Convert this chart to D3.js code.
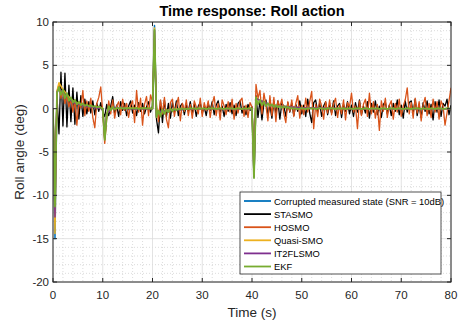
<!DOCTYPE html>
<html>
<head>
<meta charset="utf-8">
<script src="https://cdn.jsdelivr.net/npm/d3@7"></script>
<style>
  body { margin: 0; background: #fff; }
  text { font-family: 'Liberation Sans', Arial, sans-serif; fill: #262626; }
</style>
</head>
<body>
<svg id="chart" width="461" height="324"></svg>
<script>
// sample step of the dense series (s)
const DT = 0.4

// STASMO, one value every DT seconds from t = 0 to 80
const stasmo = [
  0, -9.0, 1.5, -2.9, 4.2, -2.0, 4.1, -2.1, 2.7, -1.5,
  2.4, -1.8, 1.9, -1.2, 1.5, -0.9, 1.1, -0.6, 0.8, -0.5,
  0.9, -0.7, 0.6, -0.3, 0.7, -0.4, -0.9, 0.5, -0.8, 0.3,
  1.4, -0.6, 0.4, -0.9, 0.8, -0.2, 0.6, -0.8, 0.3, 0.9,
  -0.5, 0.4, -0.8, 0.7, -0.3, 0.6, -0.6, 0.2, 0.8, -0.4,
  0.3, 7.5, -1.2, -2.8, 0.9, -1.6, 1.0, -0.9, 0.6, -1.1,
  0.7, -0.4, 0.9, -0.8, 0.3, 0.6, -0.7, 0.4, -0.3, 0.8,
  -0.6, 0.5, -0.9, 0.3, 0.7, -0.5, 0.2, -0.8, 0.6, -0.2,
  0.8, -0.7, 0.4, 0.9, -0.4, 0.3, -0.9, 0.5, -0.3, 0.7,
  -0.6, 0.4, -0.8, 0.6, 0.9, -0.5, 0.3, -0.7, 0.5, -0.2,
  0.2, -6.5, 1.5, -1.0, 0.9, -1.3, 0.6, 1.0, -0.8, 0.4,
  -1.1, 0.8, -0.5, 0.9, -1.2, 0.6, 0.3, -0.9, 0.7, -0.4,
  0.6, -0.8, 0.5, -0.3, 0.9, -0.6, 0.4, -0.9, 1.1, -0.5,
  -1.6, 0.7, 1.0, -0.4, 0.6, -0.9, 0.3, 0.8, -0.7, 0.4,
  -0.5, 0.9, -0.8, 0.3, 0.6, -1.0, 0.5, -0.3, 0.8, -0.6,
  0.4, -0.9, 0.7, -0.4, 1.0, -0.7, 0.3, -0.5, 0.8, -1.1,
  0.6, -0.4, 0.9, -0.7, 0.3, -1.0, 0.5, 0.8, -0.6, 0.4,
  -0.8, 0.6, -0.3, 1.0, -0.7, 0.4, -1.1, 0.9, -0.4, 0.7,
  0.9, -0.5, 1.1, -0.8, 0.4, -1.0, 0.7, -0.3, 0.9, -0.6,
  0.5, -1.3, 0.8, -0.4, 1.0, -0.9, 0.6, 0.3, 1.1, -0.7,
  0.4,
]

// HOSMO, same time grid
const hosmo = [
  0, -10.0, 2.0, 2.8, 1.2, 2.2, 0.6, 1.5, 0.2, 1.1,
  -0.4, 1.0, -1.9, 0.8, 0.1, 2.1, -0.8, 0.9, -0.3, 1.2,
  -1.0, -2.2, 0.6, 1.3, 2.5, -0.5, -4.0, -1.2, 0.9, -0.6,
  1.0, -1.1, 0.3, 0.8, -0.7, 1.1, -0.2, 0.6, -1.0, 0.4,
  0.9, -1.6, 2.1, -0.4, 1.2, -1.9, 0.5, 1.4, -0.8, 1.6,
  0.8, 7.5, 0.5, -1.5, 1.0, -0.6, 1.3, -1.2, -2.2, 0.7,
  1.1, -0.9, 0.4, 1.3, -1.4, 0.6, -0.3, 1.0, -0.8, 0.5,
  -1.1, 0.9, 0.2, -0.6, 1.2, -0.9, 0.7, -0.2, 0.9, -1.0,
  0.5, 1.4, -0.8, 0.6, -1.3, 1.0, 0.3, -0.7, 0.8, -0.4,
  1.1, -1.2, 0.6, -0.5, 0.9, 1.2, -0.9, 0.4, -1.0, 0.7,
  0.2, -6.5, 2.8, 1.2, 2.1, -0.6, 1.8, 0.4, -1.4, 1.5,
  -0.8, 1.3, -1.5, 0.9, 0.2, 1.1, -0.6, -1.6, 0.8, -0.3,
  1.0, -0.9, 0.6, 1.5, -1.1, 0.4, -0.7, 1.2, -0.4, 0.8,
  2.0, -2.3, 0.5, -0.9, 1.1, 0.3, -1.2, 0.8, -0.5, 1.0,
  -0.7, 0.6, 1.2, -1.0, 0.4, -0.6, 1.0, -1.3, 0.7, 0.2,
  1.8, -0.4, 0.3, -2.3, 0.9, -0.8, 0.5, 1.1, -0.9, 1.8,
  -0.6, 0.8, -1.1, 0.5, -2.5, 0.9, -0.3, 1.2, -1.0, 0.4,
  0.9, -1.2, 0.6, -0.4, 1.1, -0.9, 0.3, 1.0, 2.4, -0.6,
  0.7, -1.1, 1.2, -0.5, 0.8, -1.4, 0.4, 1.3, -0.8, 0.6,
  -1.0, 1.1, -0.4, 0.8, -1.2, 0.9, 0.3, -1.9, -0.5, 0.9,
  2.4,
]

// EKF, same time grid
const ekf = [
  0, -11.3, 1.8, 2.5, 1.6, 2.2, 1.2, 1.8, 0.9, 1.3,
  0.7, 1.0, 0.5, 0.8, 0.4, 0.6, 0.3, 0.5, 0.25, 0.4,
  0.2, 0.3, 0.15, 0.25, 0.1, 0.0, -3.6, -0.8, 0.3, -0.2,
  0.2, -0.1, 0.1, 0.0, 0.1, 0.0, 0.05, 0.0, 0.1, 0.0,
  0.05, 0.0, 0.1, -0.05, 0.05, 0.0, 0.1, 0.0, 0.05, 0.0,
  0.0, 9.1, -1.0, -0.2, -0.9, -0.1, -0.6, -0.1, -0.4, 0.0,
  -0.3, 0.0, -0.2, 0.0, -0.1, 0.05, -0.1, 0.0, -0.05, 0.05,
  0.0, 0.05, -0.05, 0.05, 0.0, 0.0, 0.05, -0.05, 0.0, 0.05,
  0.0, 0.05, -0.05, 0.0, 0.05, 0.0, -0.05, 0.05, 0.0, 0.0,
  0.05, -0.05, 0.0, 0.05, 0.0, -0.05, 0.05, 0.0, 0.0, 0.05,
  0.0, -8.0, 1.3, 0.5, 1.0, 0.4, 0.8, 0.3, 0.6, 0.3,
  0.5, 0.2, 0.4, 0.15, 0.3, 0.1, 0.25, 0.1, 0.2, 0.05,
  0.05, 0.0, 0.05, -0.05, 0.0, 0.05, 0.0, -0.05, 0.05, 0.0,
  0.0, 0.05, -0.05, 0.0, 0.05, 0.0, 0.0, -0.05, 0.05, 0.0,
  0.05, 0.0, -0.05, 0.05, 0.0, 0.0, 0.05, -0.05, 0.0, 0.05,
  0.0, -0.05, 0.05, 0.0, 0.05, -0.05, 0.0, 0.05, 0.0, -0.05,
  0.05, 0.0, 0.0, 0.05, -0.05, 0.0, 0.05, 0.0, -0.05, 0.05,
  0.0, 0.05, -0.05, 0.0, 0.05, 0.0, -0.05, 0.0, 0.05, 0.0,
  -0.05, 0.05, 0.0, 0.05, 0.0, -0.05, 0.05, 0.0, 0.0, -0.05,
  0.05, 0.0, -0.05, 0.05, 0.0, 0.05, -0.05, 0.0, 0.05, 0.0,
  0.0,
]

// sparse series, mostly hidden under the EKF trace
const sparseTimes = [
  0, 0.4, 0.8, 1.2, 2, 3, 4, 6, 8, 10, 10.4, 10.8, 12, 16, 20,
  20.4, 20.8, 21.2, 22, 24, 28, 36, 40, 40.4, 40.8, 42, 44, 50, 60, 70, 80,
]
const measured = [
  0, -15.0, 1.8, 2.4, 2.0, 1.4, 0.8, 0.4, 0.2, 0, -3.5, -0.6, 0.1, 0, 0,
  9.6, -0.9, -0.5, -0.4, -0.2, 0, 0, 0, -7.9, 1.2, 0.9, 0.4, 0.1, 0, 0, 0,
]
const quasiSmo = [
  0, -14.4, 2.0, 3.0, 2.2, 1.5, 0.9, 0.4, 0.2, 0.05, -3.4, -0.5, 0.1, 0.05, 0,
  9.3, -0.8, -0.4, -0.3, -0.1, 0, 0, 0, -7.8, 1.3, 0.8, 0.4, 0.1, 0, 0, 0,
]
const it2flsmo = [
  0, -12.5, 1.9, 2.3, 1.9, 1.3, 0.7, 0.35, 0.15, 0, -3.3, -0.6, 0.1, 0, 0,
  9.0, -0.9, -0.4, -0.3, -0.15, 0, 0, 0, -7.8, 1.2, 0.8, 0.35, 0.1, 0, 0, 0,
]

const legendLabels = [
  'Corrupted measured state (SNR = 10dB)',
  'STASMO',
  'HOSMO',
  'Quasi-SMO',
  'IT2FLSMO',
  'EKF',
]
const colors = ['#0072BD', '#000000', '#D95319', '#EDB120', '#7E2F8E', '#77AC30']

const xTicks = [0, 10, 20, 30, 40, 50, 60, 70, 80]
const yTicks = [-20, -15, -10, -5, 0, 5, 10]

window.addEventListener('load', makeChart)
function makeChart() {
  const svg = d3.select('#chart')
  const L = 53,
    R = 451,
    T = 22,
    B = 282

  const scX = d3.scaleLinear().domain([0, 80]).range([L, R])
  const scY = d3.scaleLinear().domain([-20, 10]).range([B, T])

  // minor grid (dotted)
  const g = svg.append('g')
  g.selectAll('.mx')
    .data(d3.range(0, 81, 2).filter((d) => d % 10 !== 0))
    .enter()
    .append('line')
    .attr('x1', (d) => scX(d))
    .attr('x2', (d) => scX(d))
    .attr('y1', T)
    .attr('y2', B)
    .attr('stroke', '#c4c4c4')
    .attr('stroke-width', 0.6)
    .attr('stroke-dasharray', '1,2')
  g.selectAll('.my')
    .data(d3.range(-20, 11, 1).filter((d) => d % 5 !== 0))
    .enter()
    .append('line')
    .attr('x1', L)
    .attr('x2', R)
    .attr('y1', (d) => scY(d))
    .attr('y2', (d) => scY(d))
    .attr('stroke', '#c4c4c4')
    .attr('stroke-width', 0.6)
    .attr('stroke-dasharray', '1,2')

  // major grid
  g.selectAll('.gx')
    .data(xTicks)
    .enter()
    .append('line')
    .attr('x1', (d) => scX(d))
    .attr('x2', (d) => scX(d))
    .attr('y1', T)
    .attr('y2', B)
    .attr('stroke', '#dcdcdc')
    .attr('stroke-width', 0.8)
  g.selectAll('.gy')
    .data(yTicks)
    .enter()
    .append('line')
    .attr('x1', L)
    .attr('x2', R)
    .attr('y1', (d) => scY(d))
    .attr('y2', (d) => scY(d))
    .attr('stroke', '#dcdcdc')
    .attr('stroke-width', 0.8)

  // traces
  svg
    .append('clipPath')
    .attr('id', 'clip')
    .append('rect')
    .attr('x', L)
    .attr('y', T)
    .attr('width', R - L)
    .attr('height', B - T)

  const line = d3
    .line()
    .x((d) => scX(d[0]))
    .y((d) => scY(d[1]))
  const dense = (arr) => arr.map((v, i) => [i * DT, v])
  const sparse = (arr) => arr.map((v, i) => [sparseTimes[i], v])

  const series = [
    sparse(measured),
    dense(stasmo),
    dense(hosmo),
    sparse(quasiSmo),
    sparse(it2flsmo),
    dense(ekf),
  ]
  const widths = [1.5, 1.3, 1.3, 1.5, 1.5, 1.8]

  svg
    .append('g')
    .attr('clip-path', 'url(#clip)')
    .selectAll('path')
    .data(series)
    .enter()
    .append('path')
    .attr('d', line)
    .attr('fill', 'none')
    .attr('stroke', (d, i) => colors[i])
    .attr('stroke-width', (d, i) => widths[i])
    .attr('stroke-linejoin', 'round')

  // box and inward ticks
  const axes = svg.append('g').attr('stroke', '#262626').attr('stroke-width', 1)
  axes
    .append('rect')
    .attr('x', L)
    .attr('y', T)
    .attr('width', R - L)
    .attr('height', B - T)
    .attr('fill', 'none')
  xTicks.forEach((d) => {
    axes.append('line').attr('x1', scX(d)).attr('x2', scX(d)).attr('y1', B).attr('y2', B - 4)
    axes.append('line').attr('x1', scX(d)).attr('x2', scX(d)).attr('y1', T).attr('y2', T + 4)
  })
  yTicks.forEach((d) => {
    axes.append('line').attr('x1', L).attr('x2', L + 4).attr('y1', scY(d)).attr('y2', scY(d))
    axes.append('line').attr('x1', R).attr('x2', R - 4).attr('y1', scY(d)).attr('y2', scY(d))
  })

  svg
    .selectAll('.xl')
    .data(xTicks)
    .enter()
    .append('text')
    .attr('x', (d) => scX(d))
    .attr('y', B + 17)
    .attr('text-anchor', 'middle')
    .attr('font-size', 11.5)
    .text((d) => d)
  svg
    .selectAll('.yl')
    .data(yTicks)
    .enter()
    .append('text')
    .attr('x', L - 4)
    .attr('y', (d) => scY(d) + 4)
    .attr('text-anchor', 'end')
    .attr('font-size', 11.5)
    .text((d) => d)

  svg
    .append('text')
    .attr('x', (L + R) / 2)
    .attr('y', 16)
    .attr('text-anchor', 'middle')
    .attr('font-size', 14.5)
    .attr('font-weight', 'bold')
    .style('fill', '#000')
    .text('Time response: Roll action')
  svg
    .append('text')
    .attr('x', (L + R) / 2)
    .attr('y', 317)
    .attr('text-anchor', 'middle')
    .attr('font-size', 13.5)
    .text('Time (s)')
  svg
    .append('text')
    .attr('transform', 'translate(24,' + (T + B) / 2 + ') rotate(-90)')
    .attr('text-anchor', 'middle')
    .attr('font-size', 13.5)
    .text('Roll angle (deg)')

  // legend
  const lg = svg.append('g').attr('transform', 'translate(240,192)')
  lg.append('rect')
    .attr('width', 201)
    .attr('height', 82)
    .attr('fill', '#fff')
    .attr('stroke', '#262626')
    .attr('stroke-width', 0.8)
  const rows = lg
    .selectAll('.row')
    .data(legendLabels)
    .enter()
    .append('g')
    .attr('transform', (d, i) => 'translate(0,' + (9 + i * 13.1) + ')')
  rows
    .append('line')
    .attr('x1', 4)
    .attr('x2', 31)
    .attr('stroke', (d, i) => colors[i])
    .attr('stroke-width', 1.8)
  rows
    .append('text')
    .attr('x', 34)
    .attr('y', 3.5)
    .attr('font-size', 9.4)
    .style('fill', '#000')
    .text((d) => d)
}
</script>
</body>
</html>
